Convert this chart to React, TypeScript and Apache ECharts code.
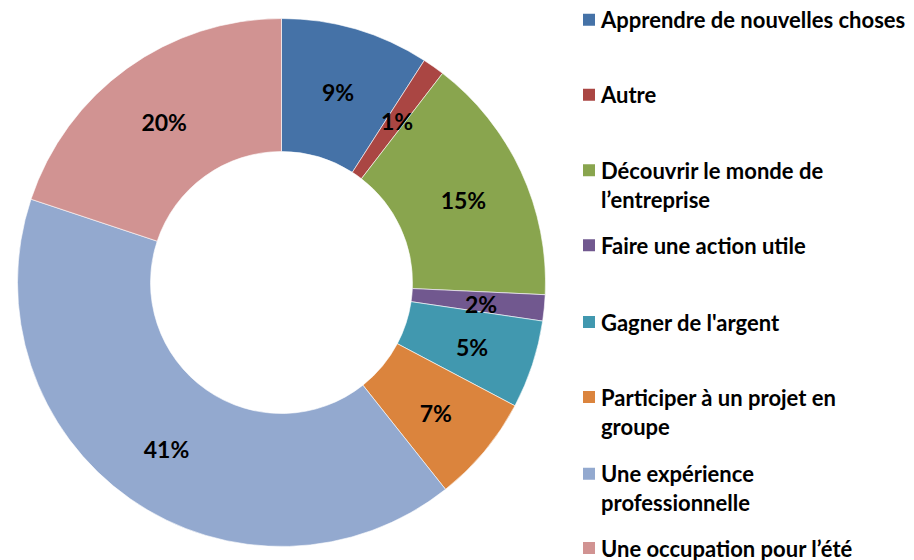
import React, { useEffect, useRef } from "react";
import * as echarts from "echarts";

const categories = [
  "Apprendre de nouvelles choses",
  "Autre",
  "Découvrir le monde de l’entreprise",
  "Faire une action utile",
  "Gagner de l'argent",
  "Participer à un projet en groupe",
  "Une expérience professionnelle",
  "Une occupation pour l’été",
];
const legendText = [
  "Apprendre de nouvelles choses",
  "Autre",
  "Découvrir le monde de\nl’entreprise",
  "Faire une action utile",
  "Gagner de l'argent",
  "Participer à un projet en\ngroupe",
  "Une expérience\nprofessionnelle",
  "Une occupation pour l’été",
];
const values = [9.1, 1.35, 15.3, 1.6, 5.4, 6.6, 40.8, 19.9];
const colors = ["#4572A7", "#AA4643", "#89A54E", "#71588F", "#4198AF", "#DB843D", "#93A9CF", "#D19392"];

const FONT = "Lato, 'Open Sans', sans-serif";

export default function App() {
  const ref = useRef<HTMLDivElement>(null);
  useEffect(() => {
    if (!ref.current) return;
    const chart = echarts.init(ref.current, undefined, { renderer: "svg" });
    const LH = 29;
    const iconCenters = [19.7, 94.7, 170.3, 245.3, 322, 397, 473.7, 548];
    const legends = categories.map((name, i) => {
      const multi = legendText[i].includes("\n");
      const top = multi ? iconCenters[i] - 1.5 * LH : iconCenters[i] - LH / 2;
      const shown = multi ? "\u00a0\n" + legendText[i] : legendText[i];
      return {
        show: true,
        left: 581,
        top,
        padding: 0,
        orient: "vertical",
        icon: "rect",
        itemWidth: 14,
        itemHeight: 14,
        selectedMode: false,
        data: [name],
        formatter: () => shown,
        textStyle: {
          fontFamily: FONT,
          fontWeight: "bold",
          fontSize: 22,
          color: "#000",
          lineHeight: LH,
        },
      };
    });
    chart.setOption({
      animation: false,
      color: colors,
      legend: legends,
      series: [
        {
          type: "pie",
          center: [281.5, 282.5],
          radius: [131, 264],
          startAngle: 90,
          clockwise: true,
          avoidLabelOverlap: false,
          itemStyle: { borderColor: "#fff", borderWidth: 0.6 },
          label: {
            show: true,
            position: "inside",
            fontFamily: FONT,
            fontWeight: "bold",
            fontSize: 23,
            color: "#000",
            offset: [0, 2],
            formatter: (p: any) => Math.round(p.percent) + "%",
          },
          labelLine: { show: false },
          emphasis: { disabled: true },
          data: categories.map((name, i) => ({ name, value: values[i] })),
        },
      ],
    });
    return () => chart.dispose();
  }, []);
  return (
    <div
      ref={ref}
      style={{ position: "fixed", left: 0, top: 0, width: 914, height: 560, background: "#fff" }}
    />
  );
}
